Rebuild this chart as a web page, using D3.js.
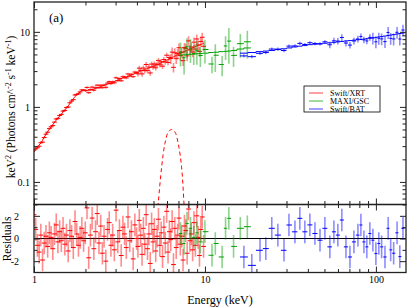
<!DOCTYPE html>
<html><head><meta charset="utf-8">
<script src="https://cdn.jsdelivr.net/npm/d3@7/dist/d3.min.js"></script>
<style>
html,body{margin:0;padding:0;background:#fff;}
svg{display:block;}
</style></head><body>
<svg id="c" width="409" height="308"></svg>
<script>
// ---------------- data ----------------
const xrtE = [1.000,1.023,1.047,1.072,1.096,1.122,1.148,1.175,1.202,1.230,
1.259,1.288,1.318,1.349,1.380,1.413,1.445,1.479,1.514,1.549,
1.585,1.622,1.660,1.698,1.738,1.778,1.820,1.862,1.905,1.950,
1.995,2.042,2.089,2.138,2.188,2.239,2.291,2.344,2.399,2.455,
2.512,2.570,2.630,2.692,2.754,2.818,2.884,2.951,3.020,3.090,
3.162,3.236,3.311,3.388,3.467,3.548,3.631,3.715,3.802,3.890,
3.981,
4.055,4.130,4.207,4.285,4.365,4.446,4.529,4.613,4.699,4.786,
4.875,4.966,5.058,5.152,5.248,5.346,5.445,5.546,5.649,5.754,
5.861,5.970,6.081,6.194,6.310,6.427,6.546,6.668,6.792,6.918,
7.047,7.178,7.311,7.447,7.586,7.727,7.870,8.017,8.166,8.318,
8.472,8.630,8.790,8.954,9.120,9.290,9.462,9.638,9.817];
const xrtV = [0.266,0.276,0.285,0.299,0.333,0.339,0.390,0.433,0.460,0.513,
0.542,0.564,0.627,0.689,0.704,0.769,0.795,0.878,0.896,0.979,
0.996,1.133,1.197,1.249,1.442,1.467,1.493,1.585,1.684,1.670,
1.663,1.817,1.547,1.700,1.833,1.668,1.802,1.948,1.801,1.942,
1.801,1.956,1.822,2.074,2.165,2.040,2.156,2.093,2.442,2.243,
2.385,2.228,2.517,2.499,2.430,2.744,2.579,2.724,2.524,2.913,
2.850,
2.758,3.280,3.063,2.751,3.295,3.040,3.670,3.045,3.392,2.834,
3.720,3.397,3.728,3.314,3.701,4.163,3.631,3.995,3.490,4.280,
3.975,4.882,3.911,4.543,4.397,5.369,3.367,5.263,4.384,5.128,
6.141,4.841,5.376,4.130,6.169,6.027,4.785,7.583,5.749,6.288,
5.386,7.288,5.902,8.035,6.679,5.494,7.453,8.473,6.412];
const xrtRel = [0.03,0.03,0.03,0.03,0.03,0.03,0.03,0.03,0.03,0.03,
0.03,0.03,0.03,0.03,0.03,0.03,0.03,0.03,0.03,0.03,
0.03,0.03,0.03,0.03,0.03,0.03,0.03,0.03,0.03,0.03,
0.04,0.04,0.04,0.04,0.04,0.04,0.04,0.04,0.04,0.04,
0.04,0.04,0.04,0.04,0.04,0.04,0.04,0.04,0.04,0.04,
0.04,0.04,0.04,0.04,0.04,0.04,0.04,0.04,0.04,0.04,
0.04,
0.08,0.08,0.08,0.08,0.08,0.08,0.08,0.08,0.08,0.08,
0.08,0.08,0.08,0.08,0.08,0.08,0.08,0.08,0.08,0.08,
0.08,0.08,0.08,0.08,0.15,0.15,0.15,0.15,0.15,0.15,
0.15,0.15,0.15,0.15,0.15,0.15,0.15,0.15,0.15,0.15,
0.15,0.15,0.15,0.15,0.15,0.15,0.15,0.15,0.15];
const xrtModel = [0.25,0.27,0.29,0.31,0.33,0.36,0.395,0.43,0.47,0.505,
0.54,0.58,0.62,0.665,0.71,0.755,0.80,0.855,0.91,0.97,
1.03,1.11,1.19,1.28,1.38,1.45,1.52,1.58,1.64,1.68,
1.63,1.64,1.66,1.68,1.71,1.73,1.76,1.79,1.83,1.86,
1.90,1.94,1.98,2.01,2.05,2.09,2.13,2.18,2.22,2.27,
2.32,2.37,2.42,2.46,2.51,2.55,2.60,2.66,2.72,2.78,
2.85,
2.90,2.95,3.00,3.05,3.10,3.15,3.20,3.25,3.30,3.35,
3.41,3.47,3.53,3.59,3.65,3.72,3.79,3.86,3.93,4.00,
4.09,4.18,4.27,4.36,4.45,4.55,4.65,4.75,4.85,4.95,
5.05,5.15,5.25,5.35,5.45,5.56,5.67,5.78,5.89,6.00,
6.12,6.24,6.36,6.48,6.60,6.70,6.80,6.90,7.00];
const xrtRes = [2.1,0.8,-0.6,-1.2,0.3,-1.9,-0.4,0.2,-0.7,0.5,0.1,
-0.9,0.4,1.2,-0.3,0.6,-0.2,0.9,-0.5,0.3,-1.1,
0.7,0.2,-0.8,1.5,0.4,-0.6,0.1,0.9,-0.2,0.5,
2.7,-1.7,0.3,1.8,-0.9,0.6,2.2,-0.4,1.1,-1.3,
0.2,-2.0,0.8,1.4,-0.6,0.3,-1.0,2.5,-0.3,0.7,
-1.5,1.0,0.4,-0.8,1.9,-0.2,0.6,-1.8,1.2,0.0,
-0.7,1.6,0.3,-1.4,0.9,-0.5,2.1,-0.9,0.4,-2.2,
1.3,-0.3,0.8,-1.1,0.2,1.7,-0.6,0.5,-1.6,1.0,
-0.4,2.4,-1.2,0.6,-0.1,1.5,-2.3,0.9,-0.8,0.3,
1.8,-0.5,0.2,-1.9,1.1,0.7,-1.3,2.6,-0.2,0.4,
-1.0,1.4,-0.6,2.0,0.1,-1.5,0.8,1.9,-0.7];

const gscE = [7.2,7.55,7.85,8.23,8.6,8.97,9.4,10.0,11.0,11.5,12.6,13.2,13.8,14.7,16.1,17.7];
const gscV = [5.33,4.51,6.33,5.92,5.15,5.61,4.84,5.82,3.73,4.88,3.67,6.49,7.53,4.86,6.96,7.37];
const gscRel = [0.35,0.4,0.3,0.35,0.3,0.35,0.3,0.35,0.25,0.4,0.3,0.35,0.5,0.3,0.35,0.4];
const gscModel = [4.9,4.95,5.0,5.02,5.05,5.1,5.15,5.2,5.3,5.35,5.45,5.5,5.55,5.65,5.9,6.1];
const gscRes = [0.44,-0.44,1.33,0.9,0.1,0.5,-0.3,0.6,-1.48,-0.44,-1.63,0.9,1.78,-0.7,0.9,1.04];

const batE = [16.9,18.8,21.0,22.7,24.6,26.7,29.0,31.0,33.6,35.9,38.4,41.1,44.0,47.1,50.3,53.8,56.8,59.9,63.2,66.8,
70.5,74.4,78.5,81.7,85.1,88.5,92.2,96.0,100,104,108,113,118,122,127,133,138,144];
const batV = [4.78,4.67,5.17,5.30,5.90,5.89,5.64,6.46,6.49,7.02,6.79,7.16,7.00,6.90,7.37,6.73,7.59,7.53,8.42,7.10,
6.66,7.56,8.04,8.65,7.81,7.57,8.44,8.27,7.37,8.22,8.06,7.41,9.81,8.19,8.05,9.87,8.02,10.57];
const batRel = [0.05,0.05,0.05,0.05,0.05,0.05,0.05,0.05,0.05,0.05,0.05,0.05,0.05,0.05,0.05,
0.1,0.1,0.1,0.1,0.1,0.1,0.1,0.1,0.1,0.1,0.1,0.1,
0.18,0.18,0.18,0.18,0.18,0.18,0.18,0.18,0.18,0.18,0.18];
const batModel = [5.2,5.3,5.45,5.55,5.65,5.8,5.95,6.1,6.3,6.45,6.6,6.75,6.85,6.95,7.05,7.15,7.25,7.35,7.45,7.55,
7.65,7.75,7.85,7.9,8.0,8.1,8.2,8.35,8.45,8.55,8.65,8.8,8.95,9.05,9.2,9.35,9.5,9.65];
const batRes = [-1.63,-2.37,-1.04,-0.89,0.9,0.3,-1.04,1.19,0.59,1.78,0.59,1.2,0.44,-0.15,0.9,-0.74,0.59,0.3,1.63,-0.74,
-1.63,-0.3,0.3,1.19,-0.3,-0.74,0.44,-0.15,-1.33,-0.44,-0.74,-1.63,0.9,-1.0,-1.3,0.5,-1.6,0.9];

const gaussE = [5.25,5.34,5.58,5.83,6.1,6.38,6.68,6.98,7.3,7.53,7.62];
const gaussV = [0.03,0.054,0.157,0.323,0.461,0.50,0.461,0.323,0.157,0.054,0.03];

const seriesNames = ["Swift/XRT","MAXI/GSC","Swift/BAT"];
const xMajor = [1,10,100], xTickLabels = ["1","10","100"];
const xMinor = [2,3,4,5,6,7,8,9,20,30,40,50,60,70,80,90];
const yMajor = [0.1,1,10], yTickLabels = ["0.1","1","10"];
const yMinor = [0.05,0.06,0.07,0.08,0.09,0.2,0.3,0.4,0.5,0.6,0.7,0.8,0.9,2,3,4,5,6,7,8,9,20];
const rMajor = [-2,0,2], rTickLabels = ["-2","0","2"];
const rMinor = [-1,1];

// ---------------- layout ----------------
const FONT = "Liberation Serif, DejaVu Serif, serif";
const X0=34, X1=406, YT=2, YM=204.5, YB=272.5;
const colors = ["#ff0000","#00a000","#0000ff"];
const svg = d3.select("#c");
const x = d3.scaleLog().domain([1,150]).range([X0,X1]);
const yU = d3.scaleLog().domain([0.05,25]).range([YM,YT]);
const yR = d3.scaleLinear().domain([-3,3]).range([YB,YM]);

const defs = svg.append("defs");
defs.append("clipPath").attr("id","cu").append("rect").attr("x",X0).attr("y",YT).attr("width",X1-X0).attr("height",YM-YT);
defs.append("clipPath").attr("id","cl").append("rect").attr("x",X0).attr("y",YM).attr("width",X1-X0).attr("height",YB-YM);

function build(E,V,rel,M,R,fixedHalf){
  const n=E.length;
  return E.map((e,i)=>{
    let lo,hi;
    if(fixedHalf){ lo=e/Math.pow(10,fixedHalf); hi=e*Math.pow(10,fixedHalf); }
    else {
      lo = i>0?Math.sqrt(E[i-1]*e):e*e/Math.sqrt(E[i+1]*e);
      hi = i<n-1?Math.sqrt(E[i+1]*e):e*e/Math.sqrt(E[i-1]*e);
    }
    return {e,lo,hi,v:V[i],err:V[i]*rel[i],m:M[i],r:R[i]};
  });
}
const sets = [
  build(xrtE,xrtV,xrtRel,xrtModel,xrtRes,0.014),
  build(gscE,gscV,gscRel,gscModel,gscRes,0),
  build(batE,batV,batRel,batModel,batRes,0)
];

const gU = svg.append("g").attr("clip-path","url(#cu)");
const gL = svg.append("g").attr("clip-path","url(#cl)");

gL.append("line").attr("x1",X0).attr("x2",X1).attr("y1",yR(0)).attr("y2",yR(0)).attr("stroke","#000").attr("stroke-width",1.2);

sets.forEach((d,k)=>{
  const c=colors[k];
  const u=gU.append("g");
  u.selectAll(".ev").data(d).join("line")
    .attr("x1",p=>x(p.e)).attr("x2",p=>x(p.e))
    .attr("y1",p=>yU(p.v+p.err)).attr("y2",p=>yU(Math.max(p.v-p.err,0.01)))
    .attr("stroke",c).attr("stroke-opacity",0.45).attr("stroke-width",1.6);
  u.selectAll(".eh").data(d).join("line")
    .attr("x1",p=>x(p.lo)).attr("x2",p=>x(p.hi))
    .attr("y1",p=>yU(p.v)).attr("y2",p=>yU(p.v))
    .attr("stroke",c).attr("stroke-width",1);
  let pts;
  if(k===0) pts=d.map(p=>[p.e,p.m]);
  else { pts=[]; d.forEach(p=>{pts.push([p.lo,p.m]);pts.push([p.hi,p.m]);}); }
  u.append("path").attr("d",d3.line().x(p=>x(p[0])).y(p=>yU(p[1]))(pts))
    .attr("fill","none").attr("stroke",c).attr("stroke-width",1);
  const l=gL.append("g");
  l.selectAll(".rv").data(d).join("line")
    .attr("x1",p=>x(p.e)).attr("x2",p=>x(p.e))
    .attr("y1",p=>yR(p.r+1)).attr("y2",p=>yR(p.r-1))
    .attr("stroke",c).attr("stroke-opacity",0.45).attr("stroke-width",1.6);
  l.selectAll(".rh").data(d).join("line")
    .attr("x1",p=>x(p.lo)).attr("x2",p=>x(p.hi))
    .attr("y1",p=>yR(p.r)).attr("y2",p=>yR(p.r))
    .attr("stroke",c).attr("stroke-width",1);
});

gU.append("path").attr("d",d3.line().curve(d3.curveCatmullRom).x(e=>x(e)).y((e,i)=>yU(gaussV[i]))(gaussE))
  .attr("fill","none").attr("stroke","#ff0000").attr("stroke-width",1).attr("stroke-dasharray","4,3");

// ---------------- axes ----------------
function ax(gen, scale, vals, size, fmt, pad, tr){
  const a=gen(scale).tickValues(vals).tickSize(size).tickPadding(pad||3).tickFormat(fmt||(()=>""));
  const g=svg.append("g").attr("transform",tr).call(a).attr("font-family",FONT).attr("font-size",10);
  g.select(".domain").remove();
  g.selectAll(".tick line").attr("stroke","#222").attr("stroke-width",1);
  g.selectAll("text").attr("font-family",FONT).attr("font-size",10).attr("fill","#000");
  return g;
}
const MJ=-6, MN=-3.5;
const fx=(v)=>xTickLabels[xMajor.indexOf(v)];
const fy=(v)=>yTickLabels[yMajor.indexOf(v)];
const fr=(v)=>rTickLabels[rMajor.indexOf(v)];
[[d3.axisTop,YT],[d3.axisBottom,YM],[d3.axisTop,YM],[d3.axisBottom,YB]].forEach(([g,yy],i)=>{
  ax(g,x,xMajor,MJ,i===3?fx:null,3,`translate(0,${yy})`);
  ax(g,x,xMinor,MN,null,3,`translate(0,${yy})`);
});
ax(d3.axisLeft,yU,yMajor,MJ,fy,4,`translate(${X0},0)`);
ax(d3.axisLeft,yU,yMinor,MN,null,4,`translate(${X0},0)`);
ax(d3.axisRight,yU,yMajor,MJ,null,4,`translate(${X1},0)`);
ax(d3.axisRight,yU,yMinor,MN,null,4,`translate(${X1},0)`);
ax(d3.axisLeft,yR,rMajor,MJ,fr,15,`translate(${X0},0)`);
ax(d3.axisLeft,yR,rMinor,MN,null,4,`translate(${X0},0)`);
ax(d3.axisRight,yR,rMajor,MJ,null,4,`translate(${X1},0)`);
ax(d3.axisRight,yR,rMinor,MN,null,4,`translate(${X1},0)`);

[[YT,YM],[YM,YB]].forEach(([a,b])=>{
  svg.append("rect").attr("x",X0).attr("y",a).attr("width",X1-X0).attr("height",b-a)
    .attr("fill","none").attr("stroke","#222").attr("stroke-width",1.3);
});

// ---------------- texts ----------------
const T = (sel)=>sel.attr("font-family",FONT).attr("fill","#000");
T(svg.append("text")).attr("x",49).attr("y",22).attr("font-size",13).text("(a)");
T(svg.append("text")).attr("x",220).attr("y",304).attr("text-anchor","middle").attr("font-size",12).text("Energy (keV)");
T(svg.append("text")).attr("transform","translate(11,239) rotate(-90)").attr("text-anchor","middle").attr("font-size",11.5).text("Residuals");
const yt = T(svg.append("text")).attr("transform","translate(15,107) rotate(-90)").attr("text-anchor","middle").attr("font-size",11.5);
const parts=[["keV",0],["2",1],[" (Photons cm^",0],["-2",1],[" s",0],["-1",1],[" keV",0],["-1",1],[")",0]];
let up=false;
parts.forEach(([t,s])=>{
  const ts=yt.append("tspan").text(t);
  if(s){ts.attr("font-size",8).attr("dy",up?0:-4.5); up=true;}
  else {ts.attr("dy",up?4.5:0); up=false;}
});

const lg=svg.append("g");
lg.append("rect").attr("x",304).attr("y",86).attr("width",76).attr("height",26).attr("fill","#fff").attr("stroke","#000").attr("stroke-width",0.8);
seriesNames.forEach((n,i)=>{
  const yy=93+i*8;
  lg.append("line").attr("x1",309).attr("x2",323).attr("y1",yy).attr("y2",yy).attr("stroke",colors[i]).attr("stroke-opacity",0.5).attr("stroke-width",1.5);
  T(lg.append("text")).attr("x",330).attr("y",yy+2.8).attr("font-size",8).text(n);
});
</script>
</body></html>
